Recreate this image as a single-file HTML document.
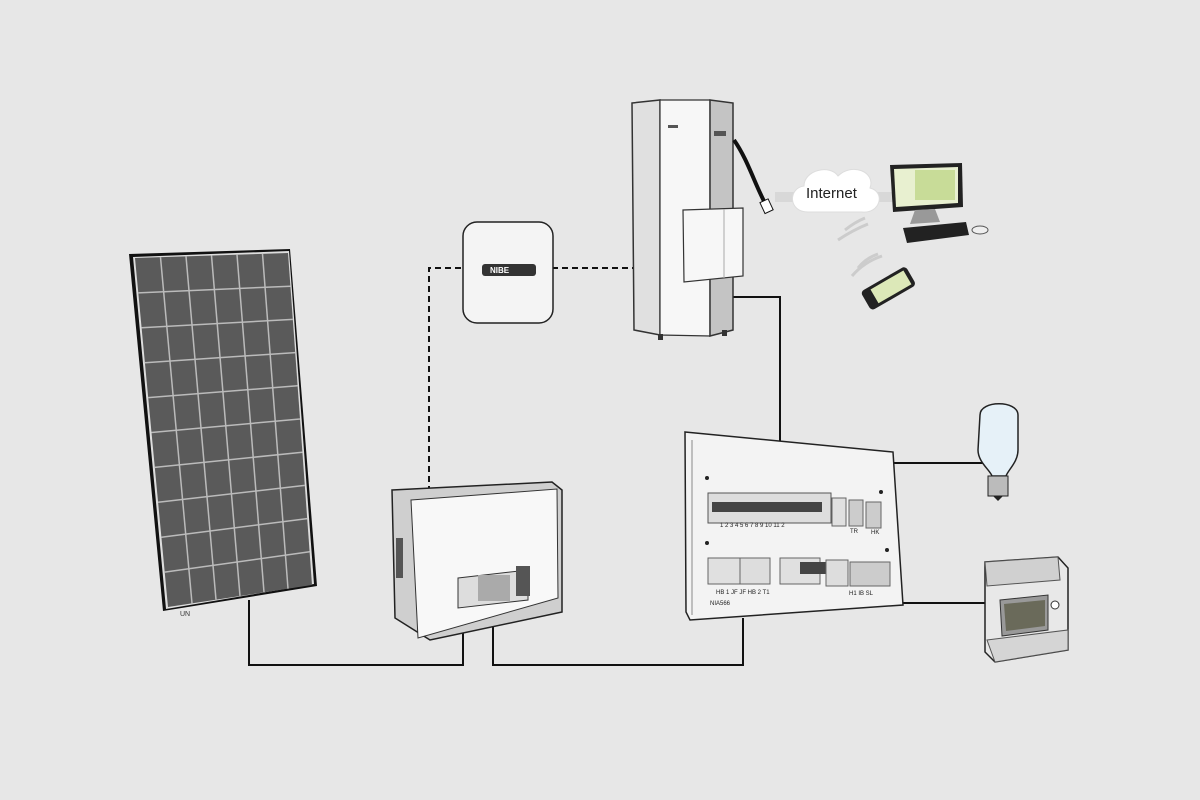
<!DOCTYPE html>
<html><head><meta charset="utf-8"><style>
html,body{margin:0;padding:0;background:#e7e7e7;width:1200px;height:800px;overflow:hidden}
svg{display:block}
</style></head><body>
<svg width="1200" height="800" viewBox="0 0 1200 800" xmlns="http://www.w3.org/2000/svg" font-family="Liberation Sans, sans-serif">
<rect width="1200" height="800" fill="#e7e7e7"/>
<g stroke="#111" stroke-width="2" fill="none">
<polyline points="249,600 249,665 463,665 463,625"/>
<polyline points="493,625 493,665 743,665 743,618"/>
<polyline points="733,297 780,297 780,443"/>
<line x1="893" y1="463" x2="985" y2="463"/>
<line x1="903" y1="603" x2="987" y2="603"/>
<polyline points="429,492 429,268 465,268" stroke-dasharray="6,4"/>
<line x1="552" y1="268" x2="634" y2="268" stroke-dasharray="6,4"/>
</g>
<!-- solar panel -->
<polygon points="129,254 290,249 317,586 163,611" fill="#111"/>
<polygon points="133,257 289,251 314,584 166,609" fill="#ddd"/>
<polygon points="135,258 288,253 312,585 168,607" fill="#5a5a5a"/>
<g stroke="#bbb" stroke-width="1.5">
<line x1="160.5" y1="257.2" x2="192" y2="603.3"/><line x1="186" y1="256.3" x2="216" y2="599.7"/><line x1="211.5" y1="255.5" x2="240" y2="596"/><line x1="237" y1="254.7" x2="264" y2="592.3"/><line x1="262.5" y1="253.8" x2="288" y2="588.7"/>
<line x1="138.3" y1="292.9" x2="290.4" y2="286.2"/><line x1="141.6" y1="327.8" x2="292.8" y2="319.4"/><line x1="144.9" y1="362.7" x2="295.2" y2="352.6"/><line x1="148.2" y1="397.6" x2="297.6" y2="385.8"/><line x1="151.5" y1="432.5" x2="300" y2="419"/><line x1="154.8" y1="467.4" x2="302.4" y2="452.2"/><line x1="158.1" y1="502.3" x2="304.8" y2="485.4"/><line x1="161.4" y1="537.2" x2="307.2" y2="518.6"/><line x1="164.7" y1="572.1" x2="309.6" y2="551.8"/>
</g>
<text x="180" y="616" font-size="7" fill="#333">UN</text>
<!-- router -->
<rect x="463" y="222" width="90" height="101" rx="14" fill="#f4f4f4" stroke="#222" stroke-width="1.5"/>
<rect x="482" y="264" width="54" height="12" rx="3" fill="#333"/>
<text x="490" y="273" font-size="8" fill="#fff" font-weight="bold">NIBE</text>
<!-- heat pump -->
<polygon points="632,103 660,100 660,335 634,330" fill="#e0e0e0" stroke="#333" stroke-width="1.5"/>
<polygon points="660,100 710,100 710,336 660,335" fill="#f7f7f7" stroke="#333" stroke-width="1.2"/>
<polygon points="710,100 733,103 733,330 710,336" fill="#c4c4c4" stroke="#333" stroke-width="1.5"/>
<rect x="714" y="131" width="12" height="5" fill="#555"/>
<rect x="658" y="334" width="5" height="6" fill="#333"/><rect x="722" y="330" width="5" height="6" fill="#333"/>
<rect x="668" y="125" width="10" height="3" fill="#555"/>
<path d="M734,140 C748,160 755,185 766,205" stroke="#111" stroke-width="4" fill="none"/>
<rect x="762" y="200" width="9" height="12" fill="#fff" stroke="#111" transform="rotate(-25 767 206)"/>
<polygon points="683,210 743,208 743,276 684,282" fill="#f7f7f7" stroke="#333" stroke-width="1.2"/>
<line x1="724" y1="209" x2="724" y2="278" stroke="#aaa"/>
<!-- internet -->
<rect x="775" y="192" width="120" height="10" fill="#d8d8d8"/>
<path d="M808,212 C788,212 788,188 804,186 C804,170 830,164 838,176 C852,162 876,172 870,188 C886,192 880,214 862,212 Z" fill="#fff" stroke="#ddd"/>
<text x="806" y="198" font-size="15" fill="#222">Internet</text>
<g stroke="#ccc" stroke-width="3" fill="none">
<path d="M845,230 q10,-8 20,-12"/><path d="M838,240 q15,-10 30,-16"/>
<path d="M858,268 q8,-10 20,-14"/><path d="M852,276 q12,-14 30,-20"/>
</g>
<polygon points="890,165 962,163 963,207 893,212" fill="#222"/>
<polygon points="894,169 958,167 958,203 896,207" fill="#e8f0d0"/>
<rect x="915" y="170" width="40" height="30" fill="#c8dc98"/>
<polygon points="915,210 935,209 940,222 910,224" fill="#999"/>
<polygon points="903,228 966,222 969,235 907,243" fill="#222"/>
<ellipse cx="980" cy="230" rx="8" ry="4" fill="#eee" stroke="#555"/>
<g transform="rotate(-30 887 288)"><rect x="862" y="278" width="52" height="22" rx="4" fill="#222"/><rect x="872" y="281" width="38" height="16" fill="#dce8b8"/></g>
<!-- inverter -->
<polygon points="392,490 552,482 562,490 562,612 430,640 395,618" fill="#cfcfcf" stroke="#222" stroke-width="1.5"/>
<polygon points="411,500 557,489 558,598 418,638" fill="#f8f8f8" stroke="#333"/>
<rect x="396" y="538" width="7" height="40" fill="#555"/>
<polygon points="458,578 528,570 528,600 458,608" fill="#ddd" stroke="#333"/>
<rect x="478" y="575" width="32" height="26" fill="#aaa"/>
<rect x="516" y="566" width="14" height="30" fill="#555"/>
<!-- distribution box -->
<polygon points="685,432 893,452 903,605 690,620 686,612" fill="#f3f3f3" stroke="#222" stroke-width="1.5"/>
<line x1="692" y1="440" x2="692" y2="615" stroke="#888"/>
<rect x="708" y="493" width="123" height="30" fill="#ddd" stroke="#555"/>
<g fill="#444"><rect x="712" y="502" width="110" height="10"/></g>
<rect x="832" y="498" width="14" height="28" fill="#e0e0e0" stroke="#666"/>
<rect x="849" y="500" width="14" height="26" fill="#ccc" stroke="#666"/>
<rect x="866" y="502" width="15" height="26" fill="#ccc" stroke="#666"/>
<rect x="708" y="558" width="40" height="26" fill="#e0e0e0" stroke="#666"/>
<rect x="740" y="558" width="30" height="26" fill="#ddd" stroke="#666"/>
<rect x="780" y="558" width="40" height="26" fill="#e0e0e0" stroke="#666"/>
<rect x="800" y="562" width="28" height="12" fill="#444"/>
<rect x="826" y="560" width="22" height="26" fill="#ddd" stroke="#666"/>
<rect x="850" y="562" width="40" height="24" fill="#ccc" stroke="#666"/>
<g font-size="6" fill="#222"><text x="720" y="527">1   2  3 4 5 6 7 8 9 10 11 2</text><text x="850" y="533">TR</text><text x="871" y="534">HK</text><text x="716" y="594">HB 1   JF JF   HB 2   T1</text><text x="849" y="595">H1  IB  SL</text><text x="710" y="605">NIA566</text></g>
<g fill="#222"><circle cx="707" cy="478" r="2"/><circle cx="881" cy="492" r="2"/><circle cx="707" cy="543" r="2"/><circle cx="887" cy="550" r="2"/></g>
<!-- bulb -->
<path d="M980,415 C980,400 1018,400 1018,415 L1018,450 C1018,462 1008,470 1006,476 L992,476 C990,470 978,462 978,450 Z" fill="#e6f1f8" stroke="#222" stroke-width="1.5"/>
<rect x="988" y="476" width="20" height="20" fill="#bbb" stroke="#222"/>
<path d="M993,496 L1003,496 L998,501 Z" fill="#222"/>
<!-- meter -->
<polygon points="985,562 1058,557 1068,568 1068,650 995,662 985,652" fill="#e8e8e8" stroke="#222" stroke-width="1.5"/>
<polygon points="985,562 1058,557 1060,580 987,586" fill="#d0d0d0" stroke="#555"/>
<polygon points="1000,600 1048,595 1048,630 1002,636" fill="#999" stroke="#333"/>
<polygon points="1004,604 1045,600 1045,626 1006,631" fill="#6a6a5a"/>
<circle cx="1055" cy="605" r="4" fill="#fff" stroke="#333"/>
<polygon points="987,640 1068,630 1068,650 995,662" fill="#d5d5d5" stroke="#555"/>
</svg>
</body></html>
